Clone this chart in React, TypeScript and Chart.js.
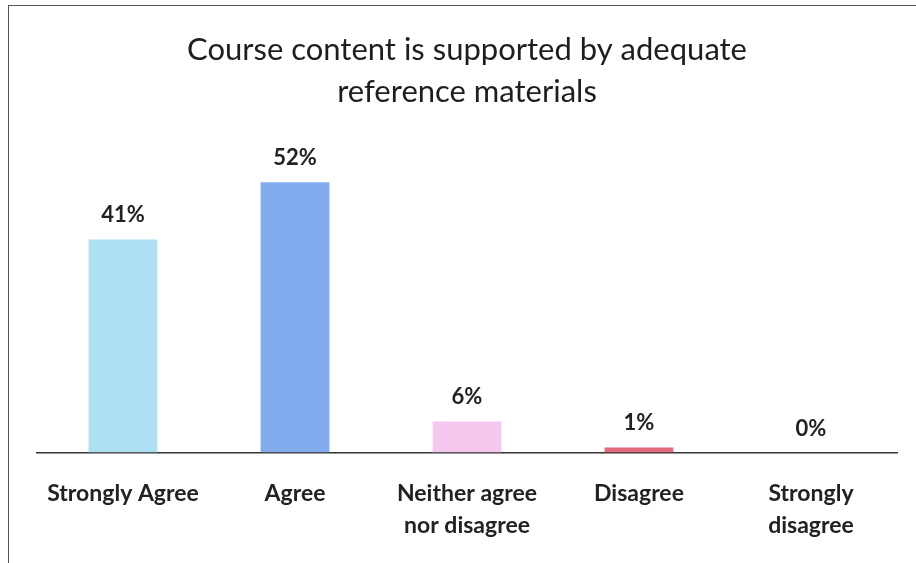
import React, { useEffect, useRef } from "react";
import { Chart, registerables } from "chart.js";

Chart.register(...registerables);

const titleLines = ["Course content is supported by adequate", "reference materials"];
const categories: (string | string[])[] = [
  "Strongly Agree",
  "Agree",
  ["Neither agree", "nor disagree"],
  "Disagree",
  ["Strongly", "disagree"],
];
const values = [41, 52, 6, 1, 0];
const barColors = ["#ade0f2", "#82acee", "#f6c8ef", "#e4697a", "#cccccc"];
const FONT = "Lato, 'Open Sans', sans-serif";

const labelPlugin = {
  id: "valueLabels",
  afterDatasetsDraw(chart: any) {
    const ctx = chart.ctx;
    const meta = chart.getDatasetMeta(0);
    ctx.save();
    ctx.font = `bold 22px ${FONT}`;
    ctx.fillStyle = "#222";
    ctx.textAlign = "center";
    ctx.textBaseline = "alphabetic";
    meta.data.forEach((bar: any, i: number) => {
      ctx.fillText(`${values[i]}%`, bar.x, bar.y - 17);
    });
    ctx.restore();
  },
};

export default function App() {
  const ref = useRef<HTMLCanvasElement>(null);
  useEffect(() => {
    if (!ref.current) return;
    const chart = new Chart(ref.current, {
      type: "bar",
      data: {
        labels: categories,
        datasets: [
          {
            data: values,
            backgroundColor: barColors,
            barPercentage: 0.4,
            categoryPercentage: 1,
          },
        ],
      },
      options: {
        responsive: false,
        animation: false,
        layout: { padding: { left: 37, right: 19, top: 0, bottom: -4 } },
        plugins: {
          legend: { display: false },
          tooltip: { enabled: false },
          title: {
            display: true,
            text: titleLines,
            color: "#1e1e1e",
            font: { family: FONT, size: 31, weight: "normal", lineHeight: 1.35 },
            padding: { top: 29, bottom: 28 },
          },
        },
        scales: {
          y: { display: false, min: 0, max: 60 },
          x: {
            grid: { display: false, drawTicks: false },
            border: { display: true, color: "#333", width: 1.5 },
            ticks: {
              color: "#222",
              padding: 25,
              maxRotation: 0,
              font: { family: FONT, size: 23, weight: "bold", lineHeight: 1.4 },
            },
          },
        },
      },
      plugins: [labelPlugin],
    });
    return () => chart.destroy();
  }, []);
  return (
    <div
      style={{
        position: "absolute",
        left: 0,
        top: 0,
        width: 916,
        height: 563,
        background: "#fff",
      }}
    >
      <div
        style={{
          position: "absolute",
          left: 8,
          top: 5,
          width: 908,
          height: 558,
          borderLeft: "1px solid #555",
          borderTop: "1px solid #555",
        }}
      />
      <canvas ref={ref} width={916} height={563} style={{ position: "absolute", left: 0, top: 0 }} />
    </div>
  );
}
